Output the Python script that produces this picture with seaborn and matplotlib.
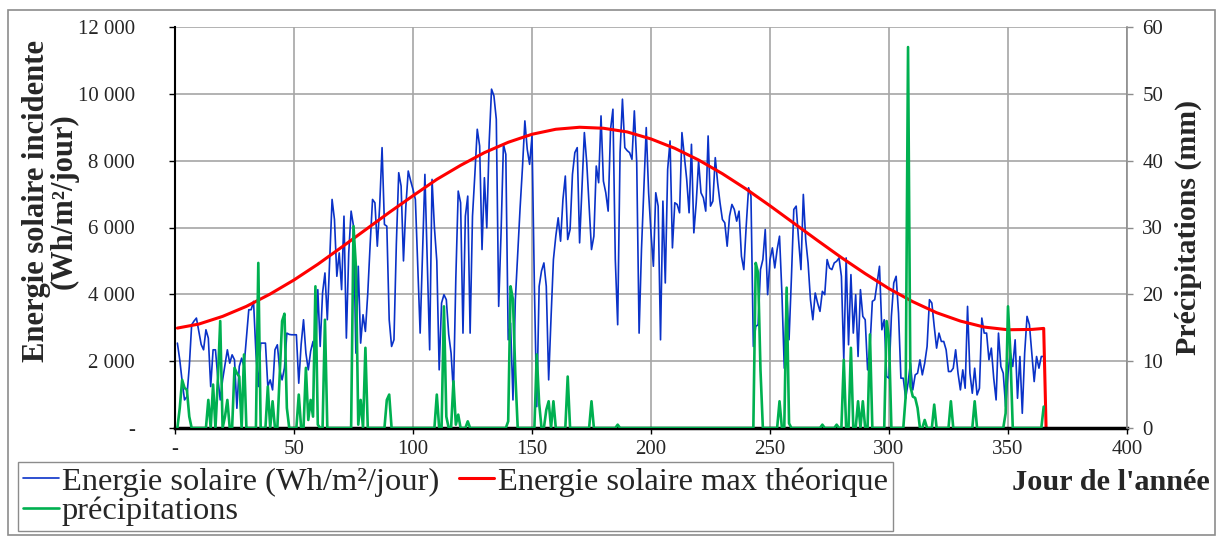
"""
Daily solar energy vs theoretical maximum, with daily precipitation.
"""

import matplotlib

matplotlib.use("Agg")
import matplotlib.pyplot as plt
import seaborn as sns
from matplotlib.patches import Rectangle

# day of year 1..365
days = list(range(1, 366))

solar = [
    2540, 2040, 1400, 840, 940, 1840, 3090, 3200, 3290, 2900,
    2500, 2340, 2940, 2690, 1240, 2340, 2340, 1500, 840, 1440,
    1900, 2340, 1940, 2190, 2040, 590, 1840, 2090, 1840, 2700,
    3540, 3540, 3790, 2240, 1240, 2540, 2540, 2540, 1240, 1440,
    1140, 2340, 2490, 1740, 1440, 1800, 2840, 2800, 2790, 2790,
    2790, 1340, 2500, 3240, 2240, 1740, 2300, 2590, 1990, 4140,
    2440, 4040, 4640, 3240, 5000, 6840, 6240, 4540, 5240, 4140,
    6340, 2690, 5240, 6490, 6040, 2240, 4840, 2540, 3390, 2890,
    4040, 5500, 6840, 6740, 5440, 6640, 8390, 6090, 6040, 3240,
    2440, 2640, 5500, 7640, 7240, 5000, 6640, 7690, 7400, 7140,
    6840, 4800, 2840, 5200, 7590, 5000, 2340, 7440, 6000, 5000,
    1740, 3740, 3990, 3840, 2800, 2240, 1040, 4500, 7090, 6740,
    2840, 6340, 6940, 2840, 6340, 7600, 8940, 8440, 5340, 7490,
    5990, 8540, 10140, 9940, 9240, 3640, 5840, 8490, 8190, 2640,
    3140, 840, 3840, 5200, 6590, 7800, 9190, 8340, 7890, 8740,
    4240, 640, 4240, 4700, 4940, 4240, 1440, 3300, 5040, 5740,
    6290, 5590, 6840, 7540, 5640, 5940, 7590, 8240, 8390, 5540,
    7200, 8840, 7940, 6640, 5340, 5740, 7840, 7340, 9340, 7390,
    7040, 6490, 8940, 9540, 5040, 3090, 8240, 9840, 8390, 8300,
    8240, 8040, 9490, 7940, 2840, 5340, 7200, 8990, 7040, 5840,
    4840, 7040, 6640, 2640, 6790, 4340, 7740, 8590, 5390, 6740,
    6690, 6440, 8840, 8140, 7440, 6440, 8490, 5840, 6740, 7990,
    7040, 6890, 6490, 8740, 6640, 6790, 8090, 7340, 6740, 6240,
    6140, 5440, 6340, 6690, 6540, 6190, 6490, 5140, 4740, 6040,
    7190, 6940, 2440, 3040, 3090, 4740, 5040, 5940, 3990, 5040,
    5390, 4790, 5340, 5740, 4040, 1790, 4140, 2640, 4500, 6540,
    6640, 5640, 4740, 6990, 5640, 4940, 3840, 3240, 4040, 3740,
    3490, 4090, 3990, 5040, 4790, 4740, 4940, 4990, 5090, 4540,
    2040, 5090, 2490, 4590, 2840, 3990, 2140, 4140, 3340, 3240,
    1740, 2440, 3790, 3840, 4340, 4840, 2940, 3240, 1540, 1490,
    3340, 4340, 4540, 3440, 1490, 1490, 890, 1340, 1940, 1140,
    1590, 1640, 2040, 1590, 1940, 2440, 3840, 3740, 3040, 2390,
    2840, 2590, 2590, 2340, 1690, 1690, 1790, 2340, 1640, 1140,
    1740, 1190, 3640, 1640, 1040, 1790, 990, 1190, 3290, 2840,
    2840, 2040, 2390, 1490, 840, 2840, 1840, 1640, 640, 1640,
    2240, 1840, 2640, 890, 2140, 440, 2240, 3340, 3090, 2240,
    1390, 2140, 1790, 2140, 2140,
]

# daily precipitation (mm)
rain = [
    0, 3, 7.2, 6, 5.7, 1.7, 0, 0, 0, 0,
    0, 0, 0, 4.2, 0, 6.5, 0, 7.2, 16, 0,
    1.7, 4.2, 0, 0, 9, 8.2, 7.7, 0, 11, 0,
    0, 0, 0, 0, 24.7, 0, 0, 0, 6.2, 0,
    4, 0, 0, 8, 16, 17.1, 3, 0, 0, 0,
    0, 5, 0, 0, 9, 1.2, 4.2, 1.7, 21.2, 0.5,
    0, 0, 16.2, 0, 0, 0, 0, 0, 0, 0,
    0, 0, 0, 0, 30.2, 24.2, 0.5, 4.2, 0, 12,
    0, 0, 0, 0, 0, 0, 0, 0, 4.2, 5,
    0, 0, 0, 0, 0, 0, 0, 0, 0, 0,
    0, 0, 0, 0, 0, 0, 0, 0, 0, 5,
    0, 0, 18.2, 1.7, 0, 0, 7, 0.5, 2, 0,
    0, 0, 1, 0, 0, 0, 0, 0, 0, 0,
    0, 0, 0, 0, 0, 0, 0, 0, 0, 1,
    21.2, 19.2, 8, 0, 0, 0, 0, 0, 0, 0,
    0, 11, 3.7, 0, 0, 2.7, 4, 0, 4, 0,
    0, 0, 0, 0, 7.7, 0, 0, 0, 0, 0,
    0, 0, 0, 0, 4, 0, 0, 0, 0, 0,
    0, 0, 0, 0, 0, 0.5, 0, 0, 0, 0,
    0, 0, 0, 0, 0, 0, 0, 0, 0, 0,
    0, 0, 0, 0, 0, 0, 0, 0, 0, 0,
    0, 0, 0, 0, 0, 0, 0, 0, 0, 0,
    0, 0, 0, 0, 0, 0, 0, 0, 0, 0,
    0, 0, 0, 0, 0, 0, 0, 0, 0, 0,
    0, 0, 0, 24.7, 23.2, 8.7, 0, 0, 0, 0,
    0, 0, 0, 4, 0, 0, 21, 0.7, 0, 0,
    0, 0, 0, 0, 0, 0, 0, 0, 0, 0,
    0, 0.5, 0, 0, 0, 0, 0, 0.5, 0, 0,
    10.2, 0, 0, 12, 0, 0, 4, 0, 4, 0,
    0, 14, 0, 0, 0, 0, 0, 0, 16, 13.5,
    0, 0, 0, 0, 0, 0, 4.7, 57, 6.2, 4.7,
    4.5, 3, 0, 0, 1.2, 0, 0, 0, 3.5, 0,
    0, 0, 0, 0, 0, 4, 0, 0, 0, 0,
    0, 0, 0, 0, 0, 4, 0, 0, 0, 0,
    0, 0, 0, 0, 0, 0, 0, 0, 2.2, 18.2,
    11.2, 0, 0, 0, 0, 0, 0, 0, 0, 0,
    0, 0, 0, 0, 3.2,
]

# theoretical maximum, read every 10 days
max_days = [1, 10, 20, 30, 40, 50, 60, 70, 80, 90, 100, 110, 120, 130,
            140, 150, 160, 170, 180, 190, 200, 210, 220, 230, 240, 250,
            260, 270, 280, 290, 300, 310, 320, 330, 340, 350, 360, 365, 366]
max_solar = [2990, 3110, 3340, 3640, 4010, 4430, 4900, 5410, 5930, 6450,
             6950, 7440, 7860, 8240, 8550, 8790, 8940, 9000, 8970, 8860,
             8650, 8370, 8020, 7610, 7150, 6650, 6130, 5610, 5100, 4620,
             4170, 3780, 3450, 3200, 3020, 2940, 2950, 2980, 0]

left_ticks = [0, 2000, 4000, 6000, 8000, 10000, 12000]
left_labels = ["-", "2 000", "4 000", "6 000", "8 000", "10 000", "12 000"]
right_ticks = [0, 10, 20, 30, 40, 50, 60]
x_ticks = [0, 50, 100, 150, 200, 250, 300, 350, 400]
x_labels = ["-", "50", "100", "150", "200", "250", "300", "350", "400"]

BLUE = "#0A32C8"
RED = "#FF0000"
GREEN = "#00B050"
GRID = "#A6A6A6"

W, H = 1218, 538

sns.set_style("white")
plt.rcParams["font.family"] = ["Liberation Serif", "DejaVu Serif"]

fig = plt.figure(figsize=(W / 100, H / 100), dpi=100)
ax = fig.add_axes([175 / W, 1 - 428 / H, (1127 - 175) / W, (428 - 27) / H])
ax2 = ax.twinx()

sns.lineplot(x=days, y=solar, ax=ax, color=BLUE, lw=1.2, estimator=None,
             label="Energie solaire (Wh/m²/jour)", legend=False)
sns.lineplot(x=max_days, y=max_solar, ax=ax, color=RED, lw=2.2, estimator=None,
             label="Energie solaire max théorique", legend=False)
sns.lineplot(x=days, y=rain, ax=ax2, color=GREEN, lw=1.9, estimator=None,
             label="précipitations", legend=False)
h_blue, h_red = ax.lines[0], ax.lines[1]
h_green = ax2.lines[0]

ax.set_xlim(0, 400)
ax.set_ylim(0, 12000)
ax2.set_ylim(0, 60)

ax.set_xticks(x_ticks)
ax.set_xticklabels(x_labels)
ax.set_yticks(left_ticks)
ax.set_yticklabels(left_labels)
ax2.set_yticks(right_ticks)

ax.set_axisbelow(True)
ax.grid(True, color=GRID, lw=1.2)
ax.set_xlabel("")

for s in ["top", "right"]:
    ax.spines[s].set_visible(False)
ax.spines["left"].set_color("black")
ax.spines["left"].set_linewidth(1.5)
ax.spines["bottom"].set_color("black")
ax.spines["bottom"].set_linewidth(2.5)
for s in ["top", "left", "bottom"]:
    ax2.spines[s].set_visible(False)
ax2.spines["right"].set_color("#8C8C8C")
ax2.spines["right"].set_linewidth(1.2)

ax.tick_params(axis="y", direction="out", length=4, width=1, color="black",
               pad=25, labelsize=15, left=True)
ax.tick_params(axis="x", direction="out", length=4, width=1, color="black",
               pad=5, labelsize=15, bottom=True)
ax2.tick_params(axis="y", direction="out", length=4, width=1, color="#8C8C8C",
                pad=7, labelsize=15, right=True)

ax.set_ylabel("Energie solaire incidente\n(Wh/m²/jour)", fontsize=22,
              fontweight="bold", va="center", linespacing=0.95)
ax.yaxis.set_label_coords(-0.131, 0.566)
ax2.set_ylabel("Précipitations (mm)", fontsize=21.5, fontweight="bold",
               rotation=90, va="center")
ax2.yaxis.set_label_coords(1.064, 0.499)

fig.text(1210 / W, 1 - 482 / H, "Jour de l'année", ha="right", va="center",
         fontsize=21.8, fontweight="bold")

fig.legend(handles=[h_blue, h_green, h_red],
           labels=[h_blue.get_label(), h_green.get_label(), h_red.get_label()],
           ncol=2, loc="upper left", bbox_to_anchor=(18 / W, 1 - 462 / H),
           fontsize=23.4, frameon=True, fancybox=False, edgecolor="#8C8C8C",
           framealpha=1, handlelength=1.1, handletextpad=0.1,
           columnspacing=0.6, labelspacing=0.0, borderpad=0.15,
           borderaxespad=0)

fig.add_artist(Rectangle((8 / W, 3 / H), (1215 - 8) / W, (535 - 10) / H,
                         transform=fig.transFigure, fill=False,
                         edgecolor="#8C8C8C", lw=1.2))

fig.savefig("out.png", dpi=100)
